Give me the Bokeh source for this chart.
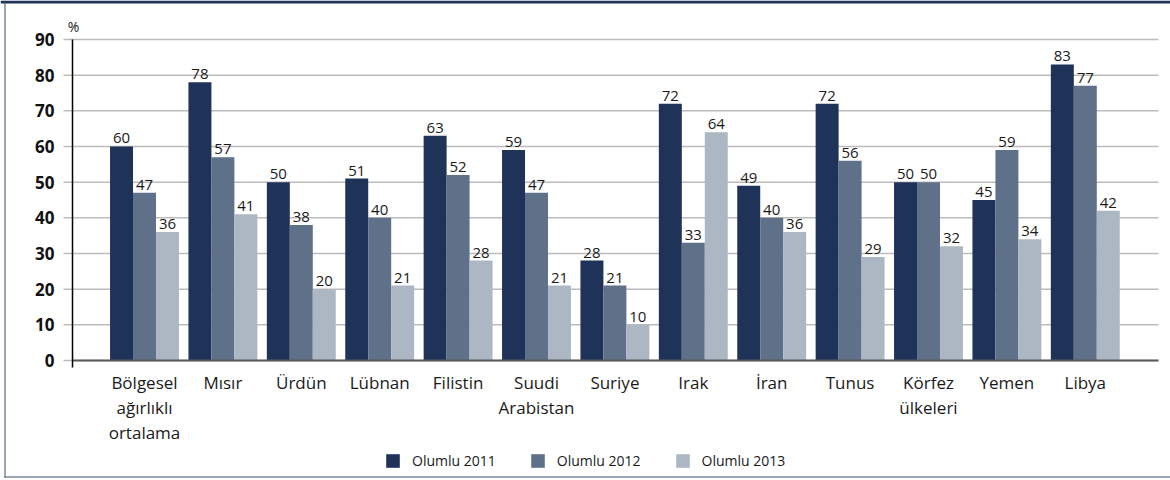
from bokeh.plotting import figure
from bokeh.models import ColumnDataSource, Range1d, Legend, LegendItem
from bokeh.transform import dodge
from bokeh.core.properties import value
from bokeh.embed import file_html
from bokeh.resources import INLINE

categories = ["Bölgesel\nağırlıklı\nortalama", "Mısır", "Ürdün", "Lübnan", "Filistin",
              "Suudi\nArabistan", "Suriye", "Irak", "İran", "Tunus",
              "Körfez\nülkeleri", "Yemen", "Libya"]
olumlu_2011 = [60, 78, 50, 51, 63, 59, 28, 72, 49, 72, 50, 45, 83]
olumlu_2012 = [47, 57, 38, 40, 52, 47, 21, 33, 40, 56, 50, 59, 77]
olumlu_2013 = [36, 41, 20, 21, 28, 21, 10, 64, 36, 29, 32, 34, 42]
series_names = ["Olumlu 2011", "Olumlu 2012", "Olumlu 2013"]
y_ticks = [0, 10, 20, 30, 40, 50, 60, 70, 80, 90]

colors = ["#1f3358", "#5f7089", "#adb7c4"]
FONT = "Open Sans"
W, H = 1170, 480

# pixel <-> data helpers (the frame covers the whole canvas)
CX0, XS = 144.0, 78.4      # px of first category centre, px per category
Y0PX, YS = 360.0, 3.567    # px of value 0, px per unit


def dx(px):
    return (px - CX0) / XS


def dy(py):
    return (Y0PX - py) / YS


idx = list(range(len(categories)))
src = ColumnDataSource(dict(
    x=idx,
    v1=olumlu_2011, v2=olumlu_2012, v3=olumlu_2013,
    t1=[str(v) for v in olumlu_2011],
    t2=[str(v) for v in olumlu_2012],
    t3=[str(v) for v in olumlu_2013],
))

p = figure(width=W, height=H, output_backend="svg", toolbar_location=None,
           x_range=Range1d(dx(0), dx(W)), y_range=Range1d(dy(H), dy(0)),
           min_border=0)
p.outline_line_color = None
p.background_fill_color = "white"
p.border_fill_color = "white"
p.xaxis.visible = False
p.yaxis.visible = False
p.grid.visible = False

# gridlines (incl. outward tick part)
p.segment(x0=[dx(63)] * len(y_ticks), x1=[dx(1158)] * len(y_ticks), y0=y_ticks, y1=y_ticks,
          line_color="#bcbcbc", line_width=1.5)

bw = 0.293
offs = [-bw, 0, bw]
renderers = []
for k, (col, tcol) in enumerate([("v1", "t1"), ("v2", "t2"), ("v3", "t3")]):
    r = p.vbar(x=dodge("x", offs[k], range=p.x_range), top=col, bottom=0, width=bw,
               source=src, fill_color=colors[k], line_color=None)
    renderers.append(r)
    p.text(x=dodge("x", offs[k], range=p.x_range), y=col, text=tcol, source=src,
           text_align="center", text_baseline="bottom", y_offset=-3,
           text_font=value(FONT), text_font_size="15px", text_color="#1a1a1a")

# baseline and y axis line
p.segment(x0=[dx(72)], x1=[dx(1158)], y0=[0], y1=[0], line_color="#5a5a5a", line_width=2)
p.segment(x0=[dx(72)], x1=[dx(72)], y0=[dy(367)], y1=[y_ticks[-1]], line_color="black",
          line_width=1.5)

# y tick labels
p.text(x=[dx(54)] * len(y_ticks), y=y_ticks, text=[str(t) for t in y_ticks],
       text_align="right", text_baseline="middle", text_font=value(FONT),
       text_font_style="bold", text_font_size="17px", text_color="#111111")
p.text(x=[dx(73)], y=[y_ticks[-1]], text=["%"], text_align="center",
       text_baseline="bottom", y_offset=-3, text_font=value(FONT),
       text_font_size="14px", text_color="#1a1a1a")

# category labels
p.text(x=idx, y=[0] * len(idx), text=categories, text_align="center",
       text_baseline="top", y_offset=10, text_line_height=1.1,
       text_font=value(FONT), text_font_size="17px", text_color="#1a1a1a")

legend = Legend(items=[LegendItem(label=series_names[k], renderers=[renderers[k]])
                       for k in range(3)],
                orientation="horizontal", location=(384, 10),
                padding=0, margin=0, spacing=33, label_standoff=11,
                glyph_width=17, glyph_height=17, label_height=17,
                label_text_font=FONT, label_text_font_size="14px",
                label_text_color="#1a1a1a",
                border_line_color=None, background_fill_alpha=0)
p.add_layout(legend)

# outer frame decorations
frame_col = "#1f3358"
edge_col = "#3c4f70"
p.quad(left=[dx(0)], right=[dx(W)], top=[dy(0)], bottom=[dy(3)],
       fill_color=frame_col, line_color=None)
p.quad(left=[dx(4)], right=[dx(5)], top=[dy(0)], bottom=[dy(477)],
       fill_color=edge_col, line_color=None)
p.quad(left=[dx(4)], right=[dx(W)], top=[dy(476)], bottom=[dy(477)],
       fill_color=edge_col, line_color=None)

open("out.html", "w").write(file_html(p, INLINE))
